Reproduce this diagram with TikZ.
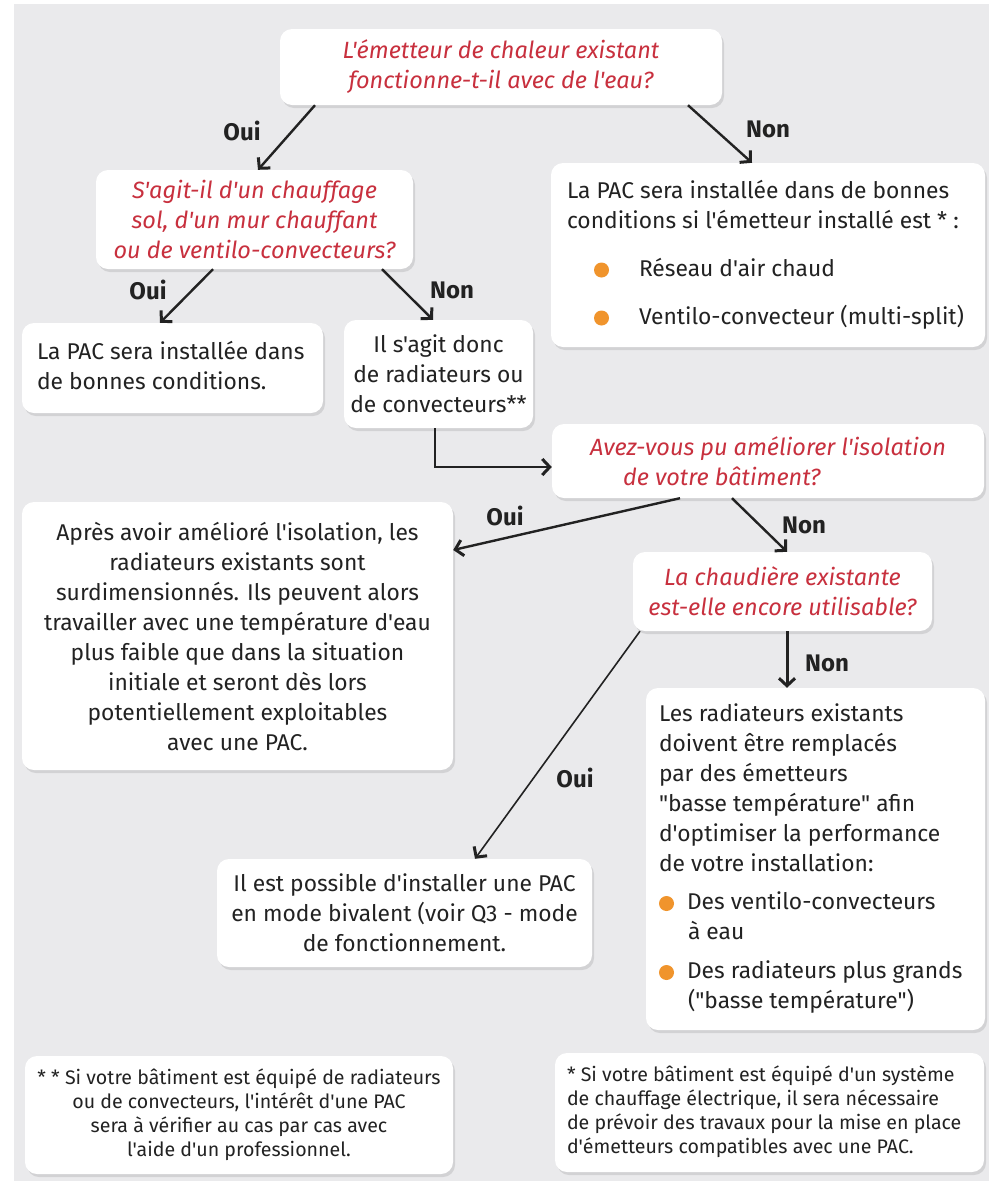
\documentclass[tikz,border=0pt]{standalone}
\usepackage{fontspec}
\setmainfont{Fira Sans}[Ligatures=TeXOff]
\usepackage{tikz}
\usetikzlibrary{arrows.meta,shadows,positioning}

\definecolor{bggrey}{RGB}{234,234,236}
\definecolor{qred}{RGB}{200,48,62}
\definecolor{dotorange}{RGB}{240,148,44}
\definecolor{txtgrey}{RGB}{34,34,34}

\newcommand{\orangedot}{\tikz[baseline=-6pt]\fill[dotorange] (0pt,0pt) circle[radius=7.5pt];}

\tikzset{
  box/.style={fill=white, rounded corners=12pt, inner sep=0pt, text=txtgrey,
    drop shadow={opacity=0.22, shadow xshift=2pt, shadow yshift=-3pt},
    font=\fontsize{22.8}{30}\selectfont},
  question/.style={box, text=qred, font=\fontsize{23.5}{30}\selectfont\itshape, align=center},
  answer/.style={box, align=center},
  listbox/.style={box, align=flush left},
  note/.style={box, font=\fontsize{19.6}{24}\selectfont},
  choice/.style={font=\fontsize{24}{26}\selectfont\bfseries, text=txtgrey},
  link/.style={line width=2.4pt, draw=txtgrey, -{Straight Barb[length=7.5pt,width=16pt,line width=3pt]}},
}

\begin{document}
\begin{tikzpicture}[x=1pt, y=-1pt]
\useasboundingbox (0,0) rectangle (989,1181);
\fill[bggrey] (14,4) rectangle (989,1181);

% First question
\node[question, minimum width=442pt, minimum height=76pt] (q1) at (501,67) {L'émetteur de chaleur existant\\fonctionne-t-il avec de l'eau?};

% Second level
\node[question, minimum width=317pt, minimum height=99pt] (q2) at (254.5,219.5) {S'agit-il d'un chauffage\\sol, d'un mur chauffant\\ou de ventilo-convecteurs?};
\node[listbox, minimum height=184pt, inner xsep=16pt, text width=402pt] (airnon) at (768,255) {\begin{tabular}{@{}l@{}}La PAC sera installée dans de bonnes\\conditions si l'émetteur installé est * :\\[18pt]
\hspace*{27pt}\orangedot\hspace*{30pt}Réseau d'air chaud\\[18pt]
\hspace*{27pt}\orangedot\hspace*{30pt}Ventilo-convecteur (multi-split)\end{tabular}};

% Third level
\node[listbox, minimum height=90pt, inner xsep=15pt, text width=271pt] (solok) at (172.5,368) {\begin{tabular}{@{}l@{}}La PAC sera installée dans\\de bonnes conditions.\end{tabular}};
\node[answer, minimum width=189pt, minimum height=108pt] (radia) at (438.5,374) {Il s'agit donc\\de radiateurs ou\\de convecteurs**};

% Insulation question
\node[question, align=left, minimum width=432pt, minimum height=74pt] (q3) at (768,461) {Avez-vous pu améliorer l'isolation\\\hspace*{33pt}de votre bâtiment?};
\node[answer, minimum width=431pt, minimum height=268pt] (isook) at (237.5,636) {Après avoir amélioré l'isolation, les\\radiateurs existants sont\\surdimensionnés. Ils peuvent alors\\travailler avec une température d'eau\\plus faible que dans la situation\\initiale et seront dès lors\\potentiellement exploitables\\avec une PAC.};

% Boiler question
\node[question, minimum width=299pt, minimum height=79pt] (q4) at (782.5,591.5) {La chaudière existante\\est-elle encore utilisable?};
\node[listbox, minimum height=342pt, inner xsep=13pt, text width=313pt] (bassetemp) at (815.5,859) {\begin{tabular}{@{}l@{}}Les radiateurs existants\\doivent être remplacés\\par des émetteurs\\"basse température" afin\\d'optimiser la performance\\de votre installation:\\[8pt]
\orangedot\hspace*{13pt}Des ventilo-convecteurs\\\hspace*{29pt}à eau\\[9pt]
\orangedot\hspace*{13pt}Des radiateurs plus grands\\\hspace*{29pt}("basse température")\end{tabular}};
\node[answer, minimum width=375pt, minimum height=108pt] (bival) at (404.5,913) {Il est possible d'installer une PAC\\en mode bivalent (voir Q3 - mode\\de fonctionnement.};

% Footnotes
\node[note, align=center, minimum width=428pt, minimum height=118pt] (note2) at (239,1115) {* * Si votre bâtiment est équipé de radiateurs\\ou de convecteurs, l'intérêt d'une PAC\\sera à vérifier au cas par cas avec\\l'aide d'un professionnel.};
\node[note, align=flush left, minimum height=119pt, inner xsep=12pt, text width=405pt] (note1) at (769.5,1112.5) {\begin{tabular}{@{}l@{}}* Si votre bâtiment est équipé d'un système\\de chauffage électrique, il sera nécessaire\\de prévoir des travaux pour la mise en place\\d'émetteurs compatibles avec une PAC.\end{tabular}};

% Labels
\node[choice] (oui1) at (242,131) {Oui};
\node[choice] (non1) at (768,129) {Non};
\node[choice] (oui2) at (148,290) {Oui};
\node[choice] (non2) at (452,290) {Non};
\node[choice] (oui3) at (505,516) {Oui};
\node[choice] (non3) at (804,525) {Non};
\node[choice] (non4) at (827,663) {Non};
\node[choice] (oui4) at (575,778) {Oui};

% Connections
\draw[link] ([xshift=-186pt]q1.south) -- ([xshift=3.5pt]q2.north);
\draw[link] ([xshift=187pt]q1.south) -- ([xshift=-16pt]airnon.north);
\draw[link] ([xshift=-41.5pt]q2.south) -- ([xshift=-12.5pt]solok.north);
\draw[link] ([xshift=127.5pt]q2.south) -- ([xshift=-5.5pt]radia.north);
\draw[link] ([xshift=-3.5pt]radia.south) |- ([yshift=-6pt]q3.west);
\draw[link] ([xshift=-88pt]q3.south) -- ([yshift=86pt]isook.east);
\draw[link] ([xshift=-36pt]q3.south) -- ([xshift=4.5pt]q4.north);
\draw[link, line width=3pt] ([xshift=4.5pt]q4.south) -- ([xshift=-28.5pt]bassetemp.north);
\draw[link, line width=1.6pt] ([xshift=-142.5pt]q4.south) -- ([xshift=70.5pt]bival.north);
\end{tikzpicture}
\end{document}
